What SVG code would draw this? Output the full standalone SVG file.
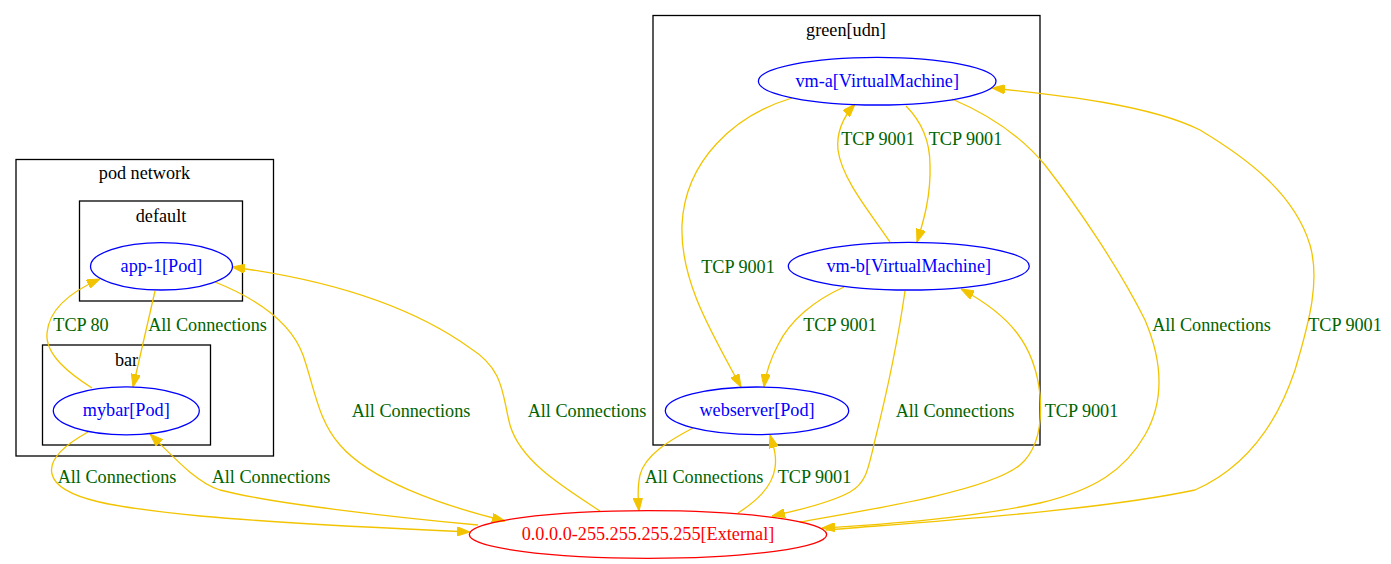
<svg xmlns="http://www.w3.org/2000/svg" width="1391" height="564" viewBox="0 0 1391 564">
<style>
text{font-family:"Liberation Serif","Times New Roman",serif;font-size:18.2px;text-anchor:middle}
.cl{fill:none;stroke:#000;stroke-width:1.3}
.nd{fill:none;stroke:#0000ff;stroke-width:1.3}
.nt{fill:#0000ff}
.ext{fill:none;stroke:#ff0000;stroke-width:1.3}
.et{fill:#ff0000}
.e{fill:none;stroke:#f2c400;stroke-width:1.3;marker-end:url(#ah)}
.lb{fill:#006400}
</style>
<defs>
<marker id="ah" viewBox="0 0 13 9.4" refX="13" refY="4.7" markerWidth="13" markerHeight="9.4" markerUnits="userSpaceOnUse" orient="auto">
<path d="M0,0 L13,4.7 L0,9.4 z" fill="#f2c400" stroke="#f2c400" stroke-width="1"/>
</marker>
</defs>
<rect width="1391" height="564" fill="#fff"/>
<g id="cluster-pod-network">
<rect class="cl" x="16" y="159.5" width="257.5" height="296.5"/>
<text x="144.5" y="179">pod network</text>
</g>
<g id="cluster-default">
<rect class="cl" x="79.5" y="201" width="163" height="100"/>
<text x="161" y="222">default</text>
</g>
<g id="cluster-bar">
<rect class="cl" x="42.5" y="345" width="168" height="100"/>
<text x="126.5" y="365.5">bar</text>
</g>
<g id="cluster-green-udn">
<rect class="cl" x="653" y="15.5" width="387" height="429.5"/>
<text x="846" y="36">green[udn]</text>
</g>
<g id="connectors">
<path class="e" d="M155,291 L133,387"/>
<path class="e" d="M92,388 C70,374 45,355 47,333 C49,310 70,292 100,279"/>
<path class="e" d="M215,282 C255,298 290,320 303,355 C315,390 318,420 340,445 C370,480 440,505 505,521"/>
<path class="e" d="M600,511 C560,485 520,460 510,425 C502,395 505,370 470,348 C410,305 330,280 232,267"/>
<path class="e" d="M88,432 C70,442 48,458 52,474 C58,500 120,508 200,516 C290,524 380,528 470,532"/>
<path class="e" d="M478,525 C390,517 270,503 220,490 C195,482 172,455 150,434"/>
<path class="e" d="M792,98 C735,115 685,160 682,225 C680,280 710,330 741,387"/>
<path class="e" d="M844,287 C815,300 790,320 778,345 C770,360 766,372 764,387"/>
<path class="e" d="M906,106 C920,120 930,140 930,165 C931,195 924,220 917,242"/>
<path class="e" d="M890,242 C872,215 842,180 838,150 C836,130 845,115 855,104"/>
<path class="e" d="M905,291 C898,340 885,400 875,440 C868,470 866,483 850,492 C830,503 800,510 772,516"/>
<path class="e" d="M800,522 C880,508 990,490 1020,465 C1040,448 1042,420 1040,395 C1035,345 1010,315 961,289"/>
<path class="e" d="M952,99 C990,115 1020,135 1045,165 C1080,210 1120,270 1145,320 C1162,360 1165,400 1145,435 C1125,470 1095,490 1040,503 C970,518 890,524 822,528"/>
<path class="e" d="M826,530 C950,520 1100,510 1195,490 C1240,470 1275,430 1295,370 C1310,320 1320,280 1310,245 C1295,195 1250,160 1200,130 C1150,105 1060,95 992,88"/>
<path class="e" d="M693,428 C670,440 645,455 640,475 C637,488 638,500 639,511"/>
<path class="e" d="M738,513 C755,502 772,488 775,468 C777,455 773,445 770,435"/>
<text class="lb" x="207.5" y="330.5">All Connections</text>
<text class="lb" x="81" y="330.5">TCP 80</text>
<text class="lb" x="411" y="416.5">All Connections</text>
<text class="lb" x="587" y="416.5">All Connections</text>
<text class="lb" x="117" y="482.5">All Connections</text>
<text class="lb" x="271" y="482.5">All Connections</text>
<text class="lb" x="738" y="273">TCP 9001</text>
<text class="lb" x="840" y="330.5">TCP 9001</text>
<text class="lb" x="965.5" y="145">TCP 9001</text>
<text class="lb" x="878" y="145">TCP 9001</text>
<text class="lb" x="955" y="416.5">All Connections</text>
<text class="lb" x="1081.5" y="416.5">TCP 9001</text>
<text class="lb" x="1211.5" y="330.5">All Connections</text>
<text class="lb" x="1345" y="330.5">TCP 9001</text>
<text class="lb" x="704" y="482.5">All Connections</text>
<text class="lb" x="814.5" y="482.5">TCP 9001</text>
</g>
<g id="node-app-1">
<ellipse class="nd" cx="161.5" cy="266.3" rx="71" ry="23.7"/>
<text class="nt" x="161.5" y="272">app-1[Pod]</text>
</g>
<g id="node-mybar">
<ellipse class="nd" cx="126.3" cy="410.8" rx="73" ry="24"/>
<text class="nt" x="126.3" y="416.3">mybar[Pod]</text>
</g>
<g id="node-vm-a">
<ellipse class="nd" cx="877.2" cy="81.2" rx="118.8" ry="23.8"/>
<text class="nt" x="877.2" y="86.7">vm-a[VirtualMachine]</text>
</g>
<g id="node-vm-b">
<ellipse class="nd" cx="908.8" cy="266.2" rx="120.5" ry="23.8"/>
<text class="nt" x="908.8" y="271.7">vm-b[VirtualMachine]</text>
</g>
<g id="node-webserver">
<ellipse class="nd" cx="757" cy="410.8" rx="91.7" ry="23.8"/>
<text class="nt" x="757" y="416.3">webserver[Pod]</text>
</g>
<g id="node-external">
<ellipse class="ext" cx="648" cy="534.5" rx="178.7" ry="23.8"/>
<text class="et" x="648" y="540">0.0.0.0-255.255.255.255[External]</text>
</g>
</svg>
